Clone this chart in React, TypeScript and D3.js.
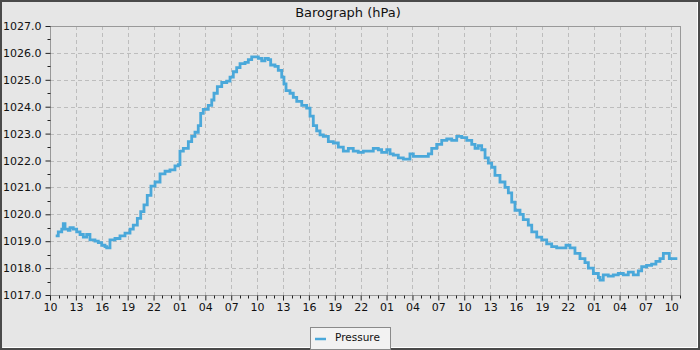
import React, { useEffect, useRef } from 'react';
import * as d3 from 'd3';

// hours after 10:00 on the first day
const hoursFromStart = [
  0.66, 0.96, 1.36, 1.54, 1.74, 2.12, 2.32, 2.7, 3.09, 3.48, 3.86, 4.25, 4.63, 5.21, 5.6, 5.99,
  6.37, 6.57, 6.95, 7.53, 8.11, 8.69, 9.27, 9.65, 10.12, 10.51, 10.89, 11.27, 11.7, 12.17, 12.75,
  13.33, 13.9, 14.48, 14.87, 15.06, 15.45, 16.03, 16.42, 16.8, 17.18, 17.46, 17.76, 18.34, 18.74,
  19.0, 19.39, 19.9, 20.48, 20.86, 21.24, 21.63, 22.02, 22.6, 22.98, 23.37, 23.75, 24.14, 24.53,
  24.91, 25.3, 25.57, 26.07, 26.45, 26.85, 27.11, 27.35, 27.81, 28.19, 28.59, 29.17, 29.74, 30.13,
  30.51, 30.9, 31.29, 31.67, 32.25, 32.83, 33.41, 33.99, 34.57, 35.14, 35.72, 36.3, 36.88, 37.46,
  38.04, 38.43, 39.02, 39.4, 39.78, 40.36, 40.94, 41.33, 41.71, 42.1, 42.68, 43.26, 43.84, 44.23,
  44.81, 45.39, 45.97, 46.55, 47.13, 47.71, 48.29, 48.87, 49.25, 49.63, 50.02, 50.41, 50.79, 51.18,
  51.56, 52.14, 52.72, 53.11, 53.5, 53.88, 54.46, 54.84, 55.42, 55.82, 56.4, 56.98, 57.55, 58.13,
  58.71, 59.29, 59.79, 60.25, 60.83, 61.41, 61.99, 62.38, 62.96, 63.54, 63.73, 64.11, 64.69, 65.27,
  65.85, 66.43, 67.01, 67.59, 68.17, 68.56, 69.14, 69.71, 70.21, 70.68, 71.07, 71.45, 71.76, 72.69,
];

const pressure = [
  1019.2, 1019.35, 1019.45, 1019.65, 1019.45, 1019.4, 1019.5, 1019.45, 1019.35, 1019.25, 1019.15,
  1019.25, 1019.05, 1019.0, 1018.95, 1018.85, 1018.8, 1018.75, 1019.05, 1019.1, 1019.2, 1019.3,
  1019.45, 1019.6, 1019.85, 1020.1, 1020.35, 1020.7, 1021.05, 1021.2, 1021.5, 1021.6, 1021.65,
  1021.8, 1021.85, 1022.35, 1022.45, 1022.7, 1022.9, 1023.05, 1023.3, 1023.75, 1023.9, 1024.05,
  1024.25, 1024.5, 1024.75, 1024.9, 1024.95, 1025.1, 1025.3, 1025.45, 1025.6, 1025.65, 1025.75,
  1025.85, 1025.85, 1025.8, 1025.7, 1025.8, 1025.75, 1025.55, 1025.5, 1025.35, 1025.1, 1024.85,
  1024.6, 1024.5, 1024.35, 1024.2, 1024.05, 1023.95, 1023.65, 1023.3, 1023.1, 1022.95, 1022.9,
  1022.7, 1022.65, 1022.5, 1022.35, 1022.45, 1022.35, 1022.3, 1022.35, 1022.35, 1022.45, 1022.4,
  1022.3, 1022.4, 1022.25, 1022.2, 1022.1, 1022.05, 1022.05, 1022.25, 1022.15, 1022.15, 1022.15,
  1022.25, 1022.45, 1022.6, 1022.75, 1022.8, 1022.75, 1022.9, 1022.85, 1022.75, 1022.6, 1022.45,
  1022.55, 1022.4, 1022.1, 1021.9, 1021.75, 1021.45, 1021.2, 1021.0, 1020.8, 1020.45, 1020.15,
  1020.0, 1019.8, 1019.6, 1019.35, 1019.15, 1019.05, 1018.9, 1018.8, 1018.75, 1018.75, 1018.85,
  1018.75, 1018.55, 1018.35, 1018.2, 1018.0, 1017.8, 1017.65, 1017.55, 1017.75, 1017.7, 1017.75,
  1017.8, 1017.75, 1017.85, 1017.75, 1017.9, 1018.05, 1018.1, 1018.15, 1018.25, 1018.35, 1018.55,
  1018.55, 1018.35, 1018.35,
];

const yTicks = [1017, 1018, 1019, 1020, 1021, 1022, 1023, 1024, 1025, 1026, 1027];
const title = 'Barograph (hPa)';
const seriesName = 'Pressure';

const App = () => {
  const svgRef = useRef<SVGSVGElement>(null);

  useEffect(() => {
    const width = 700;
    const height = 350;
    const marginTop = 26;
    const marginRight = 20;
    const marginBottom = 55;
    const marginLeft = 50;
    const lineColor = '#4aa8da';
    const bg = '#e6e6e6';
    const totalHours = 73;

    const start = new Date(2024, 0, 1, 10, 0);
    const end = d3.timeHour.offset(start, totalHours);
    const data = hoursFromStart.map((h, i) => ({
      time: new Date(start.getTime() + h * 3600 * 1000),
      value: pressure[i],
    }));

    const x = d3.scaleTime().domain([start, end]).range([marginLeft, width - marginRight]);
    const y = d3.scaleLinear().domain([1017, 1027]).range([height - marginBottom, marginTop]);

    const svg = d3.select(svgRef.current);
    svg.selectAll('*').remove();
    svg.attr('width', width).attr('height', height)
      .style('font-family', '"DejaVu Sans", sans-serif');

    // background and outer frame
    svg.append('rect').attr('width', width).attr('height', height).attr('fill', bg);
    svg.append('rect')
      .attr('x', 1).attr('y', 1).attr('width', width - 2).attr('height', height - 2)
      .attr('fill', 'none').attr('stroke', '#4a4a4a').attr('stroke-width', 2);
    svg.append('path')
      .attr('d', `M2.5,${height - 2.5}H${width - 2.5}V2`)
      .attr('fill', 'none').attr('stroke', '#ffffff').attr('stroke-width', 1);

    svg.append('text')
      .attr('x', 348).attr('y', 17)
      .attr('text-anchor', 'middle')
      .attr('font-size', 13).attr('fill', '#111')
      .text(title);

    const x0 = marginLeft, x1 = width - marginRight;
    const y0 = height - marginBottom, y1 = marginTop;

    // ticks every 3 hours counted from the start, minor every hour
    const majorTimes = d3.range(0, totalHours + 1, 3).map(h => d3.timeHour.offset(start, h));
    const minorTimes = d3.range(0, totalHours + 1).filter(h => h % 3 !== 0).map(h => d3.timeHour.offset(start, h));

    // grid
    const grid = svg.append('g').attr('stroke', '#bdbdbd').attr('stroke-dasharray', '4,3');
    grid.selectAll('line.v').data(majorTimes.slice(1)).join('line')
      .attr('x1', d => Math.round(x(d)) + 0.5).attr('x2', d => Math.round(x(d)) + 0.5)
      .attr('y1', y1).attr('y2', y0);
    grid.selectAll('line.h').data(yTicks.slice(1, -1)).join('line')
      .attr('x1', x0).attr('x2', x1)
      .attr('y1', d => Math.round(y(d)) + 0.5).attr('y2', d => Math.round(y(d)) + 0.5);

    // plot frame
    svg.append('rect')
      .attr('x', x0 + 0.5).attr('y', y1 + 0.5)
      .attr('width', x1 - x0).attr('height', y0 - y1)
      .attr('fill', 'none').attr('stroke', '#999');

    // y axis
    const yAxis = svg.append('g').attr('transform', `translate(${x0 + 0.5},0)`);
    yAxis.call(d3.axisLeft(y).tickValues(yTicks).tickSize(5).tickPadding(4).tickFormat(d => (d as number).toFixed(1)))
      .call(g => g.select('.domain').remove())
      .call(g => g.selectAll('.tick line').attr('stroke', '#222'))
      .call(g => g.selectAll('.tick text').attr('font-size', 11).attr('fill', '#111').attr('font-family', '"DejaVu Sans", sans-serif'));
    yAxis.selectAll('line.minor').data(d3.range(1017.5, 1027, 1)).join('line')
      .attr('x1', -3).attr('x2', 0)
      .attr('y1', d => Math.round(y(d)) + 0.5).attr('y2', d => Math.round(y(d)) + 0.5)
      .attr('stroke', '#222');

    // x axis
    const xAxis = svg.append('g').attr('transform', `translate(0,${y0 + 0.5})`);
    xAxis.call(d3.axisBottom(x).tickValues(majorTimes).tickSize(5).tickPadding(3).tickFormat(d3.timeFormat('%H') as any))
      .call(g => g.select('.domain').remove())
      .call(g => g.selectAll('.tick line').attr('stroke', '#222'))
      .call(g => g.selectAll('.tick text').attr('font-size', 11).attr('fill', '#111').attr('font-family', '"DejaVu Sans", sans-serif'));
    xAxis.selectAll('line.minor').data(minorTimes).join('line')
      .attr('x1', d => Math.round(x(d)) + 0.5).attr('x2', d => Math.round(x(d)) + 0.5)
      .attr('y1', 0).attr('y2', 3)
      .attr('stroke', '#222');

    // series
    const line = d3.line<{ time: Date; value: number }>()
      .x(d => x(d.time))
      .y(d => y(d.value))
      .curve(d3.curveStepAfter);
    svg.append('path')
      .datum(data)
      .attr('d', line)
      .attr('fill', 'none')
      .attr('stroke', lineColor)
      .attr('stroke-width', 2.8);

    // legend
    const legend = svg.append('g').attr('transform', 'translate(310,327)');
    legend.append('rect')
      .attr('x', 0.5).attr('y', 0.5).attr('width', 80).attr('height', 22)
      .attr('fill', '#f2f2f2').attr('stroke', '#8a8a8a');
    legend.append('line')
      .attr('x1', 5).attr('x2', 16).attr('y1', 12).attr('y2', 12)
      .attr('stroke', lineColor).attr('stroke-width', 2.5);
    legend.append('text')
      .attr('x', 25).attr('y', 14)
      .attr('font-size', 10.5).attr('fill', '#111')
      .text(seriesName);
  }, []);

  return (
    <div style={{ position: 'fixed', left: 0, top: 0 }}>
      <svg ref={svgRef} style={{ display: 'block' }} />
    </div>
  );
};

export default App;
